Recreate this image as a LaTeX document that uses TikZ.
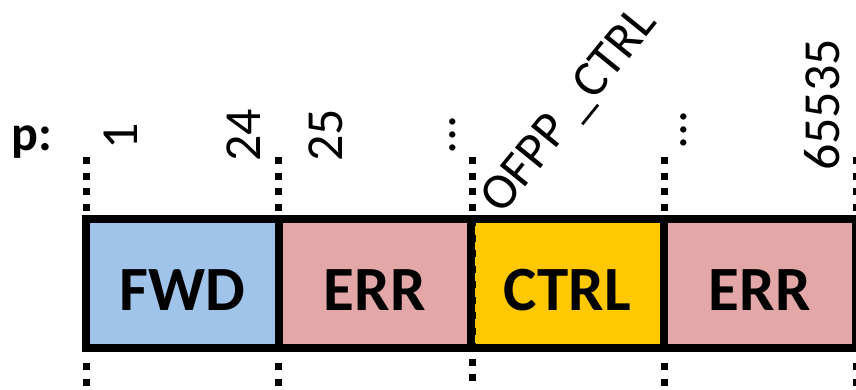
\documentclass[tikz,border=0pt]{standalone}
\usepackage{fontspec}
\setmainfont{Carlito}
\definecolor{fwdblue}{HTML}{9FC3E9}
\definecolor{errpink}{HTML}{E2A7A6}
\definecolor{ctrlgold}{HTML}{FFC800}
\begin{document}
\begin{tikzpicture}[x=1pt,y=-1pt,
  seg/.style={draw=black, line width=8pt, minimum width=192.5pt, minimum height=128.5pt,
    inner sep=0pt, text height=53.5pt, text depth=0pt,
    font=\fontsize{63}{63}\selectfont\bfseries},
  dotline/.style={line width=7pt, dash pattern=on 7pt off 8.5pt},
  num/.style={inner sep=0pt, anchor=base west, rotate=90, font=\fontsize{52}{52}\selectfont},
  plabel/.style={inner sep=0pt, anchor=base west, font=\fontsize{50}{50}\selectfont\bfseries}]
\useasboundingbox (0,0) rectangle (856,389);
% dotted guide lines (top and bottom)
\foreach \i/\x in {0/86,1/278.5,3/664.5,4/856}{
  \coordinate (t\i a) at (\x,157);
  \coordinate (t\i b) at (\x,213);
  \coordinate (b\i a) at (\x,363);
  \coordinate (b\i b) at (\x,395);
  \draw[dotline] (t\i a) -- (t\i b);
  \draw[dotline] (b\i a) -- (b\i b);
}
% boxes
\node[seg, fill=fwdblue]  (fwd)  at (182.25,283.25) {FWD};
\node[seg, fill=errpink]  (err1) at (374.75,283.25) {ERR};
\node[seg, fill=ctrlgold] (ctrl) at (567.25,283.25) {CTRL};
\node[seg, fill=errpink]  (err2) at (759.75,283.25) {ERR};
% dotted line at CTRL left edge, drawn over
\coordinate (t2a) at (472.5,157);
\coordinate (t2b) at (472.5,395);
\draw[dotline] (t2a) -- (t2b);
% labels
\node[plabel] (p) at (11,150) {p:};
\node[num] (n1)  at (137,150) {1};
\node[num] (n24) at (260,162) {24};
\node[num] (n25) at (342,162) {25};
\node[num] (d1)  at (455,155) {...};
\node[num, rotate=-39, font=\fontsize{51}{51}\selectfont] (ofpp) at (502,216) {OFPP \_CTRL};
\node[num] (d2)  at (686.5,150) {...};
\node[num] (n65535) at (839,171) {65535};
\end{tikzpicture}
\end{document}
